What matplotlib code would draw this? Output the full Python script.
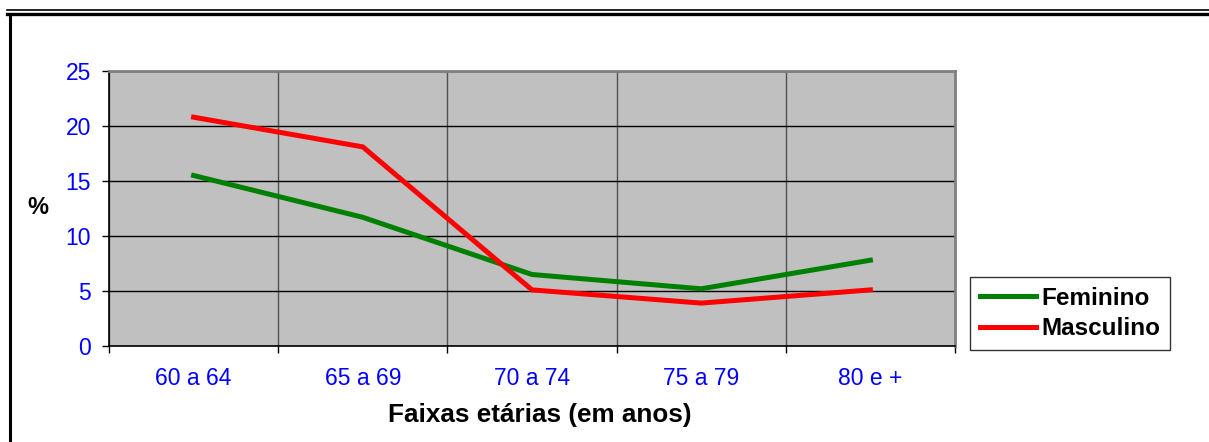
import numpy as np
import matplotlib
matplotlib.use('Agg')
import matplotlib.pyplot as plt
from matplotlib.lines import Line2D

categorias = ['60 a 64', '65 a 69', '70 a 74', '75 a 79', '80 e +']
feminino = [15.5, 11.7, 6.5, 5.2, 7.8]
masculino = [20.8, 18.1, 5.1, 3.9, 5.1]
yticks = [0, 5, 10, 15, 20, 25]

plt.rcParams['font.family'] = ['Liberation Sans', 'DejaVu Sans']

W, H = 1209, 442
fig = plt.figure(figsize=(W / 100, H / 100), dpi=100)
fig.patch.set_facecolor('white')

def px(x0, y0, x1, y1):
    return [x0 / W, x1 / W], [1 - y0 / H, 1 - y1 / H]

# outer frame: double rule on top, single line on the left
xs, ys = px(7, 10, W, 10)
fig.add_artist(Line2D(xs, ys, color='black', lw=1.2))
xs, ys = px(7, 14, W, 14)
fig.add_artist(Line2D(xs, ys, color='black', lw=2.4))
xs, ys = px(9.5, 14, 9.5, H)
fig.add_artist(Line2D(xs, ys, color='black', lw=2.2))

ax = fig.add_axes([109 / W, 1 - 346 / H, (955 - 109) / W, (346 - 71) / H])
ax.set_facecolor('#C0C0C0')

x = np.arange(len(categorias))
ax.plot(x, feminino, color='#008000', lw=3.6, label='Feminino', solid_joinstyle='miter')
ax.plot(x, masculino, color='#FF0000', lw=3.6, label='Masculino', solid_joinstyle='miter')

ax.set_xlim(-0.5, len(categorias) - 0.5)
ax.set_ylim(0, 25)
ax.set_yticks(yticks)
ax.set_xticks(x)
ax.set_xticklabels(categorias)
ax.set_xticks(np.arange(len(categorias) + 1) - 0.5, minor=True)

ax.tick_params(axis='x', which='major', length=0, pad=15, labelsize=16.5, labelcolor='#0000FF')
ax.tick_params(axis='x', which='minor', length=5, width=1, color='black', direction='out')
ax.tick_params(axis='y', length=5, width=1, pad=8, labelsize=16.5, labelcolor='#0000FF', direction='out')

ax.yaxis.grid(True, color='black', lw=1)
ax.xaxis.grid(True, which='minor', color='#505050', lw=1)
ax.set_axisbelow(True)

for s in ['top', 'right']:
    ax.spines[s].set_color('#808080')
    ax.spines[s].set_linewidth(2)
for s in ['left', 'bottom']:
    ax.spines[s].set_color('black')
    ax.spines[s].set_linewidth(1.2)

fig.text(540 / W, 1 - 415 / H, 'Faixas etárias (em anos)', fontsize=18.8, fontweight='bold',
         ha='center', va='center')
fig.text(38 / W, 1 - 207 / H, '%', fontsize=17, fontweight='bold', ha='center', va='center')

leg = fig.legend(loc='upper left', bbox_to_anchor=(970 / W, 1 - 277 / H),
                 prop={'weight': 'bold', 'size': 17.5}, frameon=True, fancybox=False,
                 borderaxespad=0, handlelength=2.3, handletextpad=0.25,
                 borderpad=0.4, labelspacing=0.3)
leg.get_frame().set_edgecolor('black')
leg.get_frame().set_linewidth(1)

fig.savefig('out.png', dpi=100)
